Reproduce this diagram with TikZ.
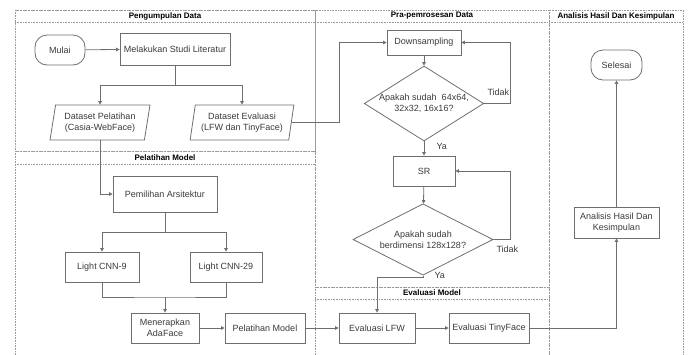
\documentclass[tikz,border=0pt]{standalone}
\usepackage{fontspec}
\setmainfont{Liberation Sans}
\usetikzlibrary{arrows.meta,shapes.geometric}
\definecolor{linegray}{HTML}{6E6E6E}
\definecolor{lanegray}{HTML}{9A9A9A}
\definecolor{textgray}{HTML}{3A3A3A}
\tikzset{
  every node/.style={text=textgray},
  lane/.style={draw=lanegray, densely dotted, line width=0.6pt},
  lanetitle/.style={font=\fontsize{8}{9}\selectfont\bfseries, text=black},
  procbox/.style={draw=linegray, line width=0.8pt, rectangle, align=center,
    font=\fontsize{9}{11}\selectfont, inner sep=0pt},
  termbox/.style={procbox, rounded corners=12pt},
  databox/.style={draw=linegray, line width=0.8pt, trapezium, trapezium left angle=77,
    trapezium right angle=103, trapezium stretches=true, align=center,
    font=\fontsize{9}{11}\selectfont, inner sep=0pt},
  decision/.style={draw=linegray, line width=0.8pt, diamond, aspect=1.6, align=center,
    font=\fontsize{9}{11}\selectfont, inner sep=0pt},
  flow/.style={draw=linegray, line width=0.8pt, -{Triangle[length=3.5pt,width=3.5pt]}},
  branch/.style={font=\fontsize{9}{11}\selectfont},
}
\begin{document}
\begin{tikzpicture}[x=1pt, y=-1pt]
\useasboundingbox (0,0) rectangle (689,354);

% swimlanes
\draw[lane] (15,10) rectangle (315,151);
\draw[lane] (15,10) -- (315,10) (15,22) -- (315,22);
\node[lanetitle] (tPeng) at (165,16) {Pengumpulan Data};
\draw[lane] (15,151) -- (315,151) (15,164) -- (315,164);
\draw[lane] (15,151) -- (15,360) (315,151) -- (315,360);
\node[lanetitle] (tPel) at (165,157.5) {Pelatihan Model};

\draw[lane] (315,10) rectangle (549,287);
\draw[lane] (315,22) -- (549,22);
\node[lanetitle] (tPra) at (432,16) {Pra-pemrosesan Data};
\draw[lane] (315,287) -- (549,287) (315,299) -- (549,299);
\draw[lane] (549,287) -- (549,360);
\node[lanetitle] (tEval) at (432,293) {Evaluasi Model};

\draw[lane] (549,10) rectangle (683,360);
\draw[lane] (549,22) -- (683,22);
\node[lanetitle] (tAna) at (616,16) {Analisis Hasil Dan Kesimpulan};

% nodes
\node[termbox, minimum width=50pt, minimum height=30pt] (mulai) at (60,50) {Mulai};
\node[procbox, minimum width=110pt, minimum height=32pt] (studi) at (175,49) {Melakukan Studi Literatur};
\node[databox, minimum width=100pt, minimum height=35pt] (dpel) at (100,122.5) {Dataset Pelatihan\\(Casia-WebFace)};
\node[databox, minimum width=104pt, minimum height=35pt] (deval) at (242,122.5) {Dataset Evaluasi\\(LFW dan TinyFace)};

\node[procbox, minimum width=104pt, minimum height=36pt] (arsi) at (165,194) {Pemilihan Arsitektur};
\node[procbox, minimum width=74pt, minimum height=30pt] (cnn9) at (102,267) {Light CNN-9};
\node[procbox, minimum width=72pt, minimum height=30pt] (cnn29) at (226,267) {Light CNN-29};
\node[procbox, minimum width=68pt, minimum height=30pt] (ada) at (165,328) {Menerapkan\\AdaFace};
\node[procbox, minimum width=80pt, minimum height=30pt] (pelm) at (265,328) {Pelatihan Model};

\node[procbox, minimum width=74pt, minimum height=25pt] (down) at (424,42.5) {Downsampling};
\node[decision, minimum width=118pt, minimum height=75pt] (dec1) at (424,103.5) {Apakah sudah\ \ 64x64,\\32x32, 16x16?};
\node[procbox, minimum width=62pt, minimum height=30pt] (sr) at (424,171) {SR};
\node[decision, minimum width=140pt, minimum height=55pt] (dec2) at (423,239.5) {Apakah sudah\\berdimensi 128x128?};

\node[procbox, minimum width=76pt, minimum height=30pt] (lfw) at (377,328) {Evaluasi LFW};
\node[procbox, minimum width=80pt, minimum height=30pt] (tiny) at (489,328) {Evaluasi TinyFace};

\node[procbox, minimum width=85pt, minimum height=31pt] (ana) at (616.5,222.5) {Analisis Hasil Dan\\Kesimpulan};
\node[termbox, minimum width=51pt, minimum height=30pt] (sel) at (616.5,65) {Selesai};

% junction points
\coordinate (j1) at (175,85);
\coordinate (j2) at (165,232);
\coordinate (j3) at (165,297);
\coordinate (loop1) at (510,0);
\coordinate (loop2) at (510,0);

% connectors
\draw[flow] (mulai) -- (studi);
\draw[draw=linegray, line width=0.8pt] (studi.south) -- (j1);
\draw[flow] (j1) -| (dpel.north);
\draw[flow] (j1) -| (deval.north);
\draw[flow] (deval.east) -- ++(48,0) |- (down.west);
\draw[flow] (dpel.south) |- (arsi.west);
\draw[draw=linegray, line width=0.8pt] (arsi.south) -- (j2);
\draw[flow] (j2) -| (cnn9.north);
\draw[flow] (j2) -| (cnn29.north);
\draw[draw=linegray, line width=0.8pt] (cnn9.south) |- (j3) -| (cnn29.south);
\draw[flow] (j3) -- (ada.north);
\draw[flow] (ada) -- (pelm);
\draw[flow] (pelm) -- (lfw);
\draw[flow] (lfw) -- (tiny);
\draw[flow] (tiny.east) -| (ana.south);
\draw[flow] (ana) -- (sel);

\draw[flow] (down) -- (dec1);
\draw[flow] (dec1.east) -- (510,103.5) |- (down.east);
\node[branch, anchor=west] (tidak1) at (484,92) {Tidak};
\draw[flow] (dec1.south) -- (sr.north);
\node[branch, anchor=west] (ya1) at (433,146) {Ya};
\draw[flow] (sr) -- (dec2);
\draw[flow] (dec2.east) -- (510,239.5) |- (sr.east);
\node[branch, anchor=west] (tidak2) at (493,249) {Tidak};
\draw[flow] (dec2.south) -- (423,277) -| (lfw.north);
\node[branch, anchor=west] (ya2) at (431,275) {Ya};
\end{tikzpicture}
\end{document}
